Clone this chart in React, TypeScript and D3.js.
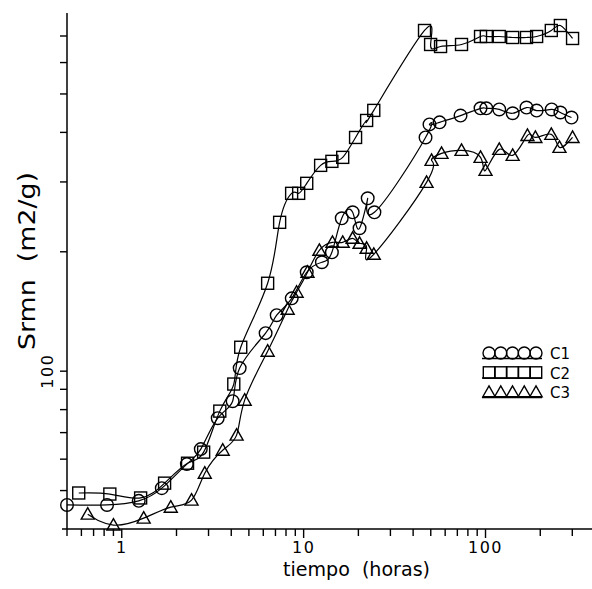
import React from 'react';
import * as d3 from 'd3';

// C1 (circles)
const c1Time = [0.5, 0.83, 1.24, 1.66, 2.28, 2.72, 3.37, 4.07, 4.45, 6.18, 7.11, 8.6, 10.4, 12.6, 14.3, 16.2, 18.6, 20.3, 22.5, 24.5, 46.8, 49.2, 55.9, 72.9, 93.9, 101, 119, 141, 168, 191, 231, 258, 297];
const c1Srmn = [46.0, 46.0, 47.1, 50.7, 58.3, 63.6, 76.1, 84.0, 101.8, 124.7, 138.4, 152.6, 177.6, 188.2, 199.4, 242.9, 251.5, 229.3, 272.8, 251.5, 388.4, 419, 424, 441, 460, 460, 457, 447, 462, 454, 457, 449, 436];

// C2 (squares)
const c2Time = [0.58, 0.86, 1.27, 1.72, 2.3, 2.82, 3.46, 4.13, 4.51, 6.34, 7.38, 8.59, 9.39, 10.4, 12.4, 14.3, 16.4, 19.3, 22.2, 24.3, 46.2, 49.9, 56.6, 73.8, 93.9, 101, 119, 141, 168, 191, 230, 258, 301];
const c2Srmn = [49.3, 49.0, 47.9, 52.2, 58.6, 62.5, 79.3, 92.8, 114.9, 166.6, 237.3, 280.8, 280.8, 297.6, 330.3, 338.1, 346, 388.4, 428.7, 454.5, 722.8, 666.4, 658.6, 666.4, 698, 698, 698, 694, 694, 698, 722.8, 744, 690];

// C3 (triangles)
const c3Time = [0.65, 0.9, 1.32, 1.86, 2.42, 2.86, 3.59, 4.28, 4.74, 6.34, 8.17, 9.15, 10.5, 12.2, 14.4, 16.4, 18.6, 20.3, 22.2, 24.3, 47.4, 50.5, 57.3, 73.8, 93.9, 100, 119, 141, 170, 188, 230, 255, 301];
const c3Srmn = [43.6, 40.9, 42.6, 45.4, 47.3, 55.3, 63.2, 69.0, 84.5, 112.3, 143.3, 158.1, 177.6, 201.7, 211.3, 211.3, 216.3, 210.1, 204.1, 197.1, 299.3, 340.1, 354.1, 360.4, 346, 320.9, 362.5, 350.1, 393.0, 388.4, 395.4, 366.7, 388.4];

const seriesNames = ['C1', 'C2', 'C3'];
const xTickLabels = [1, 10, 100];
const xTicks = [0.5, 0.6, 0.7, 0.8, 0.9, 1, 2, 3, 4, 5, 6, 7, 8, 9, 10, 20, 30, 40, 50, 60, 70, 80, 90, 100, 200, 300];
const yTicks = [50, 60, 70, 80, 90, 100, 200, 300, 400, 500, 600, 700];
const yTickLabels = [100];

type Shape = 'circle' | 'square' | 'triangle';

function Marker({ cx, cy, shape, s = 1 }: { cx: number; cy: number; shape: Shape; s?: number }) {
  const common = { fill: 'none', stroke: '#000', strokeWidth: 1.4 };
  if (shape === 'circle') return <circle cx={cx} cy={cy} r={6.3 * s} {...common} />;
  if (shape === 'square') {
    const h = 6 * s;
    return <rect x={cx - h} y={cy - h} width={2 * h} height={2 * h} {...common} />;
  }
  const w = 6.5 * s;
  return <path d={`M${cx},${cy - 6.5 * s}L${cx + w},${cy + 5 * s}L${cx - w},${cy + 5 * s}Z`} {...common} />;
}

export default function App() {
  const W = 592, H = 589;
  const x = d3.scaleLog().domain([0.5, 385]).range([67, 592]);
  const y = d3.scaleLog().domain([40, 800]).range([529, 13]);
  const line = d3.line<[number, number]>()
    .x(d => x(d[0]))
    .y(d => y(d[1]))
    .curve(d3.curveNatural);

  const series: { name: string; shape: Shape; pts: [number, number][] }[] = [
    { name: seriesNames[0], shape: 'circle', pts: c1Time.map((t, i) => [t, c1Srmn[i]]) },
    { name: seriesNames[1], shape: 'square', pts: c2Time.map((t, i) => [t, c2Srmn[i]]) },
    { name: seriesNames[2], shape: 'triangle', pts: c3Time.map((t, i) => [t, c3Srmn[i]]) },
  ];

  const font = "'DejaVu Sans', sans-serif";
  const legendY = [353, 372.5, 392];
  const legendTextY = [358.5, 378.5, 398];

  return (
    <svg width={W} height={H} style={{ position: 'absolute', left: 0, top: 0, background: '#fff' }}>
      <rect x={0} y={0} width={W} height={H} fill="#fff" />
      {/* axes */}
      <line x1={67} y1={13} x2={67} y2={529} stroke="#000" strokeWidth={1.5} />
      <line x1={62} y1={529} x2={592} y2={529} stroke="#000" strokeWidth={1.5} />
      {yTicks.map(v => (
        <line key={'yt' + v} x1={60} x2={67} y1={y(v)} y2={y(v)} stroke="#000" strokeWidth={1.4} />
      ))}
      {xTicks.map(v => (
        <line key={'xt' + v} x1={x(v)} x2={x(v)} y1={529} y2={xTickLabels.includes(v) ? 538 : 536} stroke="#000" strokeWidth={1.4} />
      ))}
      {xTickLabels.map(v => (
        <text key={'xl' + v} x={x(v)} y={553} textAnchor="middle" fontFamily={font} fontSize={16} letterSpacing={1.5} fill="#000">{v}</text>
      ))}
      {yTickLabels.map(v => (
        <text key={'yl' + v} transform={`translate(53,${y(v)}) rotate(-90)`} textAnchor="middle" fontFamily={font} fontSize={16} letterSpacing={1.5} fill="#000">{v}</text>
      ))}
      <text x={356.5} y={576} textAnchor="middle" fontFamily={font} fontSize={20} fill="#000" textLength={147} lengthAdjust="spacingAndGlyphs" style={{ whiteSpace: 'pre' }}>{'tiempo  (horas)'}</text>
      <text transform="translate(35,261) rotate(-90)" textAnchor="middle" fontFamily={font} fontSize={23} fill="#000" textLength={178} lengthAdjust="spacingAndGlyphs" style={{ whiteSpace: 'pre' }}>{'Srmn  (m2/g)'}</text>

      {/* series */}
      {series.map(s => (
        <g key={s.name}>
          <path d={line(s.pts) || ''} fill="none" stroke="#000" strokeWidth={1.2} />
          {s.pts.map((p, i) => (
            <Marker key={i} cx={x(p[0])} cy={y(p[1])} shape={s.shape} />
          ))}
        </g>
      ))}

      {/* legend */}
      {series.map((s, k) => (
        <g key={'lg' + s.name}>
          <line x1={482} x2={542} y1={legendY[k] + 5.5} y2={legendY[k] + 5.5} stroke="#000" strokeWidth={1.4} />
          {[0, 1, 2, 3, 4].map(j => (
            <Marker key={j} cx={489 + j * 11.75} cy={legendY[k]} shape={s.shape} s={0.95} />
          ))}
          <text x={550} y={legendTextY[k]} fontFamily={font} fontSize={15} fill="#000">{s.name}</text>
        </g>
      ))}
    </svg>
  );
}
